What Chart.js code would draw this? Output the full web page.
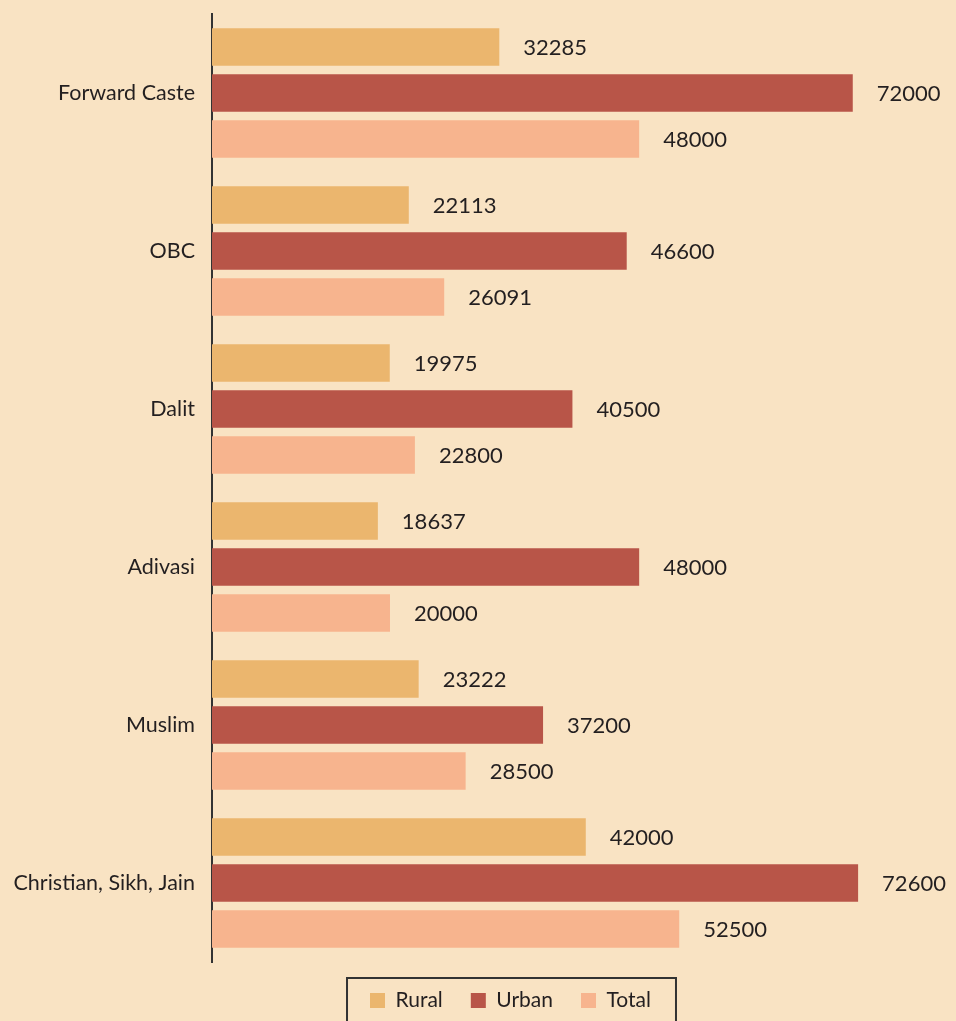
<!DOCTYPE html>
<html>
<head>
<meta charset="utf-8">
<script src="https://cdn.jsdelivr.net/npm/chart.js@4"></script>
<style>
  html, body { margin: 0; padding: 0; background: #f9e3c3; }
  #wrap { position: relative; width: 956px; height: 1021px; }
</style>
</head>
<body>
<div id="wrap"><canvas id="chart"></canvas></div>
<script>
// data
const categories = ['Forward Caste', 'OBC', 'Dalit', 'Adivasi', 'Muslim', 'Christian, Sikh, Jain'];
const rural = [32285, 22113, 19975, 18637, 23222, 42000];
const urban = [72000, 46600, 40500, 48000, 37200, 72600];
const total = [48000, 26091, 22800, 20000, 28500, 52500];

const FONT = 'Lato, "Open Sans", sans-serif';
const TEXT = '#231f20';

// value labels to the right of each bar
const valueLabels = {
  id: 'valueLabels',
  afterDatasetsDraw(chart) {
    const ctx = chart.ctx;
    ctx.save();
    ctx.font = '22px ' + FONT;
    ctx.fillStyle = TEXT;
    ctx.textAlign = 'left';
    ctx.textBaseline = 'middle';
    chart.data.datasets.forEach((ds, i) => {
      chart.getDatasetMeta(i).data.forEach((bar, j) => {
        ctx.fillText(String(ds.data[j]), bar.x + 24, bar.y + 1);
      });
    });
    ctx.restore();
  }
};

// box round the legend
const legendBorder = {
  id: 'legendBorder',
  afterDraw(chart) {
    const boxes = chart.legend && chart.legend.legendHitBoxes;
    if (!boxes || !boxes.length) return;
    const first = boxes[0], last = boxes[boxes.length - 1];
    const ctx = chart.ctx;
    ctx.save();
    ctx.strokeStyle = '#333';
    ctx.lineWidth = 2;
    ctx.strokeRect(first.left - 23, 978, (last.left + last.width) - first.left + 48, 60);
    ctx.restore();
  }
};

new Chart(document.getElementById('chart'), {
  type: 'bar',
  data: {
    labels: categories,
    datasets: [
      { label: 'Rural', data: rural, backgroundColor: '#ebb66e' },
      { label: 'Urban', data: urban, backgroundColor: '#b85548' },
      { label: 'Total', data: total, backgroundColor: '#f7b48e' }
    ]
  },
  options: {
    indexAxis: 'y',
    responsive: true,
    maintainAspectRatio: false,
    animation: false,
    categoryPercentage: 0.873,
    barPercentage: 0.815,
    layout: { padding: { top: 14, right: -65, bottom: 0, left: 0 } },
    scales: {
      x: { display: false, min: 0, max: 83600 },
      y: {
        grid: { display: false },
        border: { display: true, color: '#333', width: 2 },
        ticks: { color: TEXT, font: { family: FONT, size: 21.5 }, padding: 9 },
        afterFit(scale) {
          scale.width = 212;
          scale.paddingTop = 0;
          scale.paddingBottom = 0;
        }
      }
    },
    plugins: {
      tooltip: { enabled: false },
      legend: {
        position: 'bottom',
        labels: {
          color: TEXT,
          font: { family: FONT, size: 21 },
          boxWidth: 15,
          boxHeight: 15,
          padding: 28
        }
      }
    }
  },
  plugins: [valueLabels, legendBorder]
});
</script>
</body>
</html>
